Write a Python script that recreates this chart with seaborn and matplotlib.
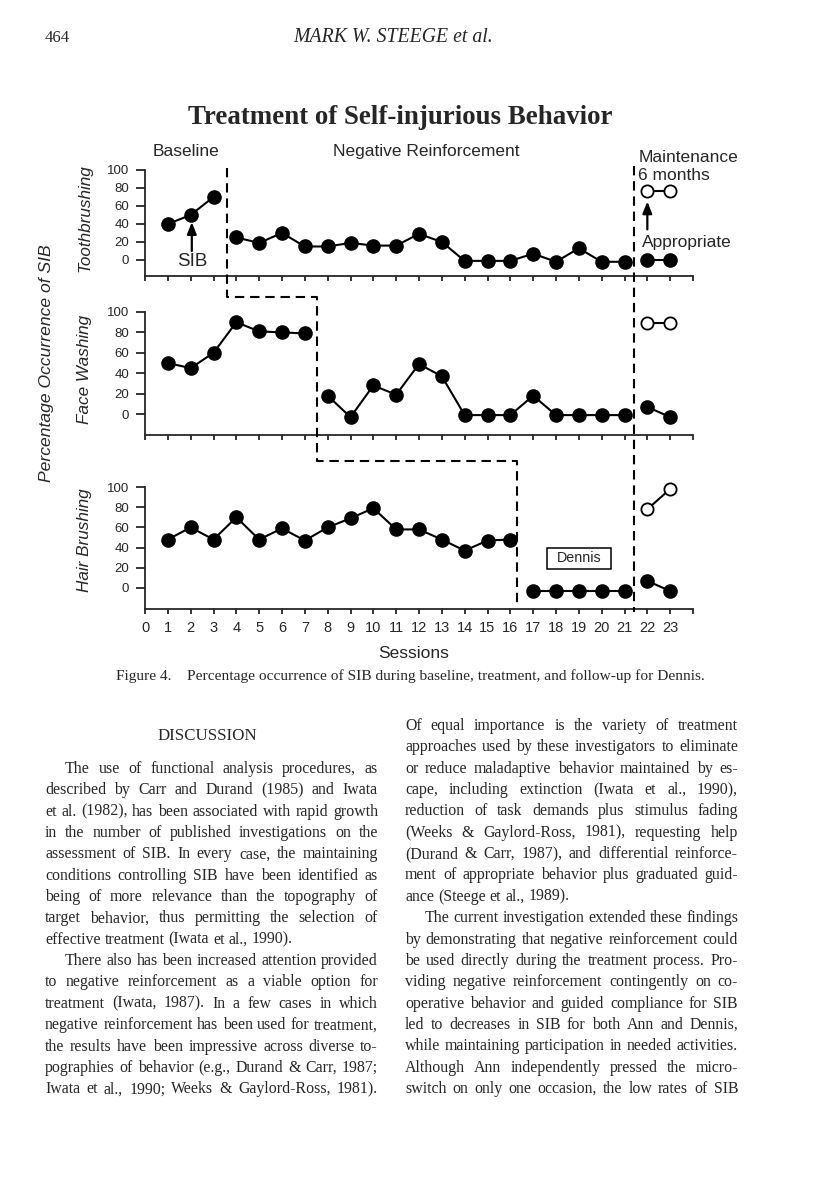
import matplotlib
matplotlib.use("Agg")
import matplotlib.pyplot as plt
import matplotlib.transforms as mtransforms
from matplotlib.patches import Rectangle
import numpy as np
import pandas as pd
import seaborn as sns

# ---------------- data ----------------
sessions = list(range(1, 24))
toothbrushing_sib = [40, 50, 70, 25, 19, 30, 15, 15, 19, 16, 16, 29, 20, -1, -1, -1, 7, -2, 13, -2, -2, 0, 0]
face_washing_sib = [50, 45, 60, 90, 81, 80, 79, 18, -3, 28, 19, 49, 37, -1, -1, -1, 18, -1, -1, -1, -1, 7, -3]
hair_brushing_sib = [48, 60, 48, 70, 48, 59, 47, 60, 69, 79, 58, 58, 48, 37, 47, 48, -3, -3, -3, -3, -3, 7, -3]
maintenance_sessions = [22, 23]
toothbrushing_appropriate = [77, 77]
face_washing_appropriate = [89, 89]
hair_brushing_appropriate = [78, 98]
# last session of each phase (lines are broken after these sessions)
toothbrushing_breaks = [3, 21]
face_washing_breaks = [7, 21]
hair_brushing_breaks = [16, 21]
panel_labels = ["Toothbrushing", "Face Washing", "Hair Brushing"]
y_ticks = [0, 20, 40, 60, 80, 100]
x_ticks = list(range(0, 25))
x_tick_labels = [str(i) for i in range(24)] + [""]

header_page = "464"
header_author = "MARK W. STEEGE et al."
chart_title = "Treatment of Self-injurious Behavior"
caption = "Figure 4.    Percentage occurrence of SIB during baseline, treatment, and follow-up for Dennis."

left_col = [
    ("The use of functional analysis procedures, as", True, True),
    ("described by Carr and Durand (1985) and Iwata", False, True),
    ("et al. (1982), has been associated with rapid growth", False, True),
    ("in the number of published investigations on the", False, True),
    ("assessment of SIB. In every case, the maintaining", False, True),
    ("conditions controlling SIB have been identified as", False, True),
    ("being of more relevance than the topography of", False, True),
    ("target behavior, thus permitting the selection of", False, True),
    ("effective treatment (Iwata et al., 1990).", False, False),
    ("There also has been increased attention provided", True, True),
    ("to negative reinforcement as a viable option for", False, True),
    ("treatment (Iwata, 1987). In a few cases in which", False, True),
    ("negative reinforcement has been used for treatment,", False, True),
    ("the results have been impressive across diverse to-", False, True),
    ("pographies of behavior (e.g., Durand & Carr, 1987;", False, True),
    ("Iwata et al., 1990; Weeks & Gaylord-Ross, 1981).", False, True),
]
right_col = [
    ("Of equal importance is the variety of treatment", False, True),
    ("approaches used by these investigators to eliminate", False, True),
    ("or reduce maladaptive behavior maintained by es-", False, True),
    ("cape, including extinction (Iwata et al., 1990),", False, True),
    ("reduction of task demands plus stimulus fading", False, True),
    ("(Weeks & Gaylord-Ross, 1981), requesting help", False, True),
    ("(Durand & Carr, 1987), and differential reinforce-", False, True),
    ("ment of appropriate behavior plus graduated guid-", False, True),
    ("ance (Steege et al., 1989).", False, False),
    ("The current investigation extended these findings", True, True),
    ("by demonstrating that negative reinforcement could", False, True),
    ("be used directly during the treatment process. Pro-", False, True),
    ("viding negative reinforcement contingently on co-", False, True),
    ("operative behavior and guided compliance for SIB", False, True),
    ("led to decreases in SIB for both Ann and Dennis,", False, True),
    ("while maintaining participation in needed activities.", False, True),
    ("Although Ann independently pressed the micro-", False, True),
    ("switch on only one occasion, the low rates of SIB", False, True),
]

# ---------------- style ----------------
sns.set_style("ticks")
plt.rcParams["font.family"] = ["Liberation Sans", "DejaVu Sans"]
plt.rcParams["axes.linewidth"] = 1.3
SERIF = ["Liberation Serif", "DejaVu Serif"]

W, H = 816, 1195
fig = plt.figure(figsize=(W / 100, H / 100), dpi=100)
fig.patch.set_facecolor("white")
renderer = fig.canvas.get_renderer()


def fx(px):
    return px / W


def fy(py):
    return 1 - py / H


def text_width(s, size, **kw):
    t = fig.text(0, 0, s, fontsize=size, **kw)
    w = t.get_window_extent(renderer=renderer).width
    t.remove()
    return w


# ---------------- panels ----------------
panel_px = [(170, 276), (312, 435), (487, 609)]   # top/bottom pixel rows of the axes
panel_ybottom = [-17.8, -20.5, -20.8]
x_left, x_right = 145, 693
sib_series = [toothbrushing_sib, face_washing_sib, hair_brushing_sib]
app_series = [toothbrushing_appropriate, face_washing_appropriate, hair_brushing_appropriate]
break_series = [toothbrushing_breaks, face_washing_breaks, hair_brushing_breaks]
label_ycoord = [0.547, 0.53, 0.566]

axes = []
for i in range(3):
    top, bot = panel_px[i]
    ax = fig.add_axes([fx(x_left), fy(bot), (x_right - x_left) / W, (bot - top) / H])
    axes.append(ax)
    seg, sid = [], 0
    for s in sessions:
        seg.append(sid)
        if s in break_series[i]:
            sid += 1
    df = pd.DataFrame({"session": sessions, "pct": sib_series[i], "segment": seg})
    sns.lineplot(data=df, x="session", y="pct", units="segment", estimator=None,
                 sort=False, color="black", lw=1.5, marker="o", markersize=9.5,
                 markerfacecolor="black", markeredgecolor="black", markeredgewidth=1,
                 legend=False, ax=ax)
    dfa = pd.DataFrame({"session": maintenance_sessions, "pct": app_series[i]})
    sns.lineplot(data=dfa, x="session", y="pct", estimator=None, sort=False,
                 color="black", lw=1.5, marker="o", markersize=8.8,
                 markerfacecolor="white", markeredgecolor="black", markeredgewidth=1.3,
                 legend=False, ax=ax)
    for ln in ax.lines:
        ln.set_clip_on(False)
    ax.set_xlim(0, 24)
    ax.set_ylim(panel_ybottom[i], 100)
    ax.set_yticks(y_ticks)
    ax.set_yticklabels([str(v) for v in y_ticks])
    ax.set_xticks(x_ticks)
    if i == 2:
        ax.set_xticklabels(x_tick_labels)
    else:
        ax.set_xticklabels([])
    sns.despine(ax=ax)
    ax.tick_params(axis="y", direction="out", length=6.5, width=1.3, pad=5, labelsize=9.5)
    ax.tick_params(axis="x", direction="out", length=3.8, width=1.3, pad=5, labelsize=10.5)
    ax.set_ylabel(panel_labels[i], fontsize=12.3, style="italic")
    ax.yaxis.set_label_coords((85 - x_left) / (x_right - x_left), label_ycoord[i])
    ax.yaxis.label.set_va("center")
    ax.set_xlabel("")
    ax.patch.set_alpha(0)

ax1, ax2, ax3 = axes
ax3.set_xlabel("Sessions", fontsize=12.5)
ax3.xaxis.set_label_coords(0.49, (609 - 653) / (609 - 487))
ax3.xaxis.label.set_va("center")

# phase change lines (x in data units, y in figure pixels)
tr = mtransforms.blended_transform_factory(ax1.transData, fig.transFigure)
dash = dict(color="black", lw=1.5, linestyle=(0, (4.5, 2.8)), transform=tr, clip_on=False)
fig.lines.append(plt.Line2D([3.6, 3.6, 7.55, 7.55, 16.3, 16.3],
                            [fy(168), fy(297), fy(297), fy(461), fy(461), fy(607)], **dash))
fig.lines.append(plt.Line2D([21.43, 21.43], [fy(166), fy(612)], **dash))

# phase titles and annotations
ax1.text(1.8, 121, "Baseline", ha="center", va="center", fontsize=12.5)
ax1.text(12.33, 121, "Negative Reinforcement", ha="center", va="center", fontsize=12.5)
ax1.text(21.6, 114, "Maintenance", ha="left", va="center", fontsize=12.5)
ax1.text(21.6, 94, "6 months", ha="left", va="center", fontsize=12.5)
ax1.annotate("", xy=(2.05, 42), xytext=(2.05, 10),
             arrowprops=dict(arrowstyle="-|>,head_length=0.7,head_width=0.28", lw=1.6,
                             color="black", shrinkA=0, shrinkB=0))
ax1.text(2.05, -2, "SIB", ha="center", va="center", fontsize=13.5)
ax1.annotate("", xy=(22, 65), xytext=(22, 34),
             arrowprops=dict(arrowstyle="-|>,head_length=0.7,head_width=0.28", lw=1.6,
                             color="black", shrinkA=0, shrinkB=0))
ax1.text(21.78, 19, "Appropriate", ha="left", va="center", fontsize=12.5)

ax3.add_patch(Rectangle((17.6, 18.8), 2.8, 20.8, fill=False, ec="black", lw=1.1, clip_on=False))
ax3.text(19.0, 29.7, "Dennis", ha="center", va="center", fontsize=10.3)

fig.text(fx(47), fy(363), "Percentage Occurrence of SIB", rotation=90, ha="center",
         va="center", fontsize=12.6, style="italic")

# ---------------- page text ----------------
def fit_text(s, x0, x1, yc, base, **kw):
    size = base * (x1 - x0) / text_width(s, base, **kw)
    fig.text(fx(x0), fy(yc), s, fontsize=size, ha="left", va="center", **kw)


fig.text(fx(45), fy(38), header_page, fontsize=12, ha="left", va="center", family=SERIF)
fit_text(header_author, 293, 491, 38, 12, family=SERIF, style="italic")
fit_text(chart_title, 188, 612, 118, 17, family=SERIF, weight="bold")
fit_text(caption, 116, 700, 676, 10, family=SERIF)
fit_text("DISCUSSION", 158, 258, 736, 12, family=SERIF)

COLW = 333
INDENT = 20
cols = [(45, 769, left_col), (405, 726, right_col)]
base = 10.0
space_w = text_width("a a", base, family=SERIF) - text_width("aa", base, family=SERIF)
need = 0
for x0, _, lines in cols:
    for s, ind, _ in lines:
        words = s.split(" ")
        wsum = sum(text_width(w, base, family=SERIF) for w in words) + space_w * (len(words) - 1)
        need = max(need, wsum / (COLW - (INDENT if ind else 0)))
body_size = base / need
space_w = space_w / need
LEAD = 21.35
for x0, y0, lines in cols:
    for k, (s, ind, just) in enumerate(lines):
        words = s.split(" ")
        widths = [text_width(w, body_size, family=SERIF) for w in words]
        start = x0 + (INDENT if ind else 0)
        avail = x0 + COLW - start
        gap = (avail - sum(widths)) / (len(words) - 1) if (just and len(words) > 1) else space_w
        x = start
        yb = y0 + k * LEAD + 4
        for w, wd in zip(words, widths):
            fig.text(fx(x), fy(yb), w, fontsize=body_size, ha="left", va="baseline", family=SERIF)
            x += wd + gap

fig.savefig("out.png", dpi=100, facecolor="white")
